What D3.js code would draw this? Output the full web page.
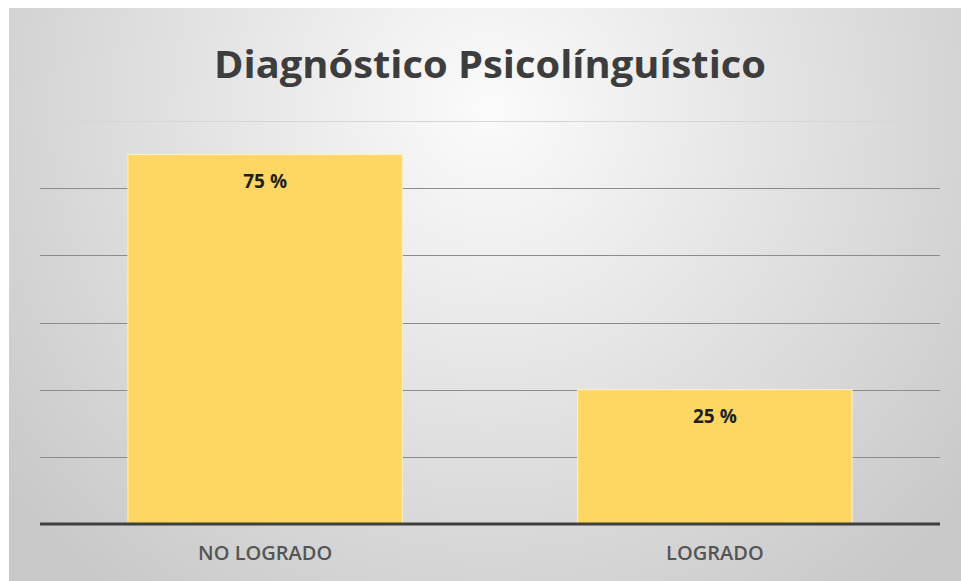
<!DOCTYPE html>
<html>
<head>
<meta charset="utf-8">
<script src="https://cdn.jsdelivr.net/npm/d3@7"></script>
<style>
  body { margin: 0; background: #fff; }
  svg { display: block; }
  text { font-family: "Open Sans", sans-serif; }
</style>
</head>
<body>
<svg width="961" height="581"></svg>
<script>
// chart data
var categories = ['NO LOGRADO', 'LOGRADO'];
var counts = [11, 4];
var percentLabels = ['75 %', '25 %'];
var yTicks = [0, 2, 4, 6, 8, 10, 12];
var title = 'Diagnóstico Psicolínguístico';

var svg = d3.select('svg'),
  width = +svg.attr('width'),
  height = +svg.attr('height');

var defs = svg.append('defs');
var grad = defs
  .append('radialGradient')
  .attr('id', 'bg')
  .attr('gradientUnits', 'userSpaceOnUse')
  .attr('cx', 490)
  .attr('cy', 110)
  .attr('r', 620);
grad.append('stop').attr('offset', '0%').attr('stop-color', '#fbfbfb');
grad.append('stop').attr('offset', '45%').attr('stop-color', '#e4e4e4');
grad.append('stop').attr('offset', '100%').attr('stop-color', '#c8c8c8');

svg
  .append('rect')
  .attr('x', 9)
  .attr('y', 8)
  .attr('width', width - 9)
  .attr('height', height - 8)
  .attr('fill', 'url(#bg)');

var x = d3
  .scaleBand()
  .domain(categories)
  .range([38, 942])
  .paddingInner(0.39)
  .paddingOuter(0.2);

var y = d3
  .scaleLinear()
  .domain([0, 12])
  .range([524, 121]);

// gridlines
svg
  .append('g')
  .attr('class', 'grid')
  .selectAll('line')
  .data(yTicks.filter(function(d) {
    return d > 0;
  }))
  .enter()
  .append('line')
  .attr('x1', 40)
  .attr('x2', 940)
  .attr('y1', function(d) {
    return Math.round(y(d)) + 0.5;
  })
  .attr('y2', function(d) {
    return Math.round(y(d)) + 0.5;
  })
  .attr('stroke', function(d) {
    return d === 12 ? '#d6d6d6' : '#8c8c8c';
  })
  .attr('stroke-width', 1);

// bars
svg
  .append('g')
  .selectAll('rect')
  .data(counts)
  .enter()
  .append('rect')
  .attr('x', function(d, i) {
    return x(categories[i]);
  })
  .attr('y', function(d) {
    return y(d);
  })
  .attr('width', x.bandwidth())
  .attr('height', function(d) {
    return y(0) - y(d);
  })
  .attr('fill', '#fdd663')
  .attr('stroke', '#fff3c4')
  .attr('stroke-width', 1);

// baseline
svg
  .append('line')
  .attr('x1', 40)
  .attr('x2', 940)
  .attr('y1', y(0))
  .attr('y2', y(0))
  .attr('stroke', '#3f3f3f')
  .attr('stroke-width', 3);

// value labels
svg
  .append('g')
  .selectAll('text')
  .data(counts)
  .enter()
  .append('text')
  .attr('x', function(d, i) {
    return x(categories[i]) + x.bandwidth() / 2;
  })
  .attr('y', function(d) {
    return y(d) + 33;
  })
  .attr('text-anchor', 'middle')
  .attr('font-size', 19)
  .attr('font-weight', 'bold')
  .attr('fill', '#1f1f1f')
  .text(function(d, i) {
    return percentLabels[i];
  });

// category labels
svg
  .append('g')
  .selectAll('text')
  .data(categories)
  .enter()
  .append('text')
  .attr('x', function(d) {
    return x(d) + x.bandwidth() / 2;
  })
  .attr('y', 560)
  .attr('text-anchor', 'middle')
  .attr('font-size', 20)
  .attr('font-weight', 600)
  .attr('fill', '#555555')
  .text(function(d) {
    return d;
  });

// title
svg
  .append('text')
  .attr('x', 490)
  .attr('y', 78)
  .attr('text-anchor', 'middle')
  .attr('font-size', 38)
  .attr('font-weight', 'bold')
  .attr('fill', '#3d3d3d')
  .attr('textLength', 552)
  .attr('lengthAdjust', 'spacingAndGlyphs')
  .text(title);
</script>
</body>
</html>
